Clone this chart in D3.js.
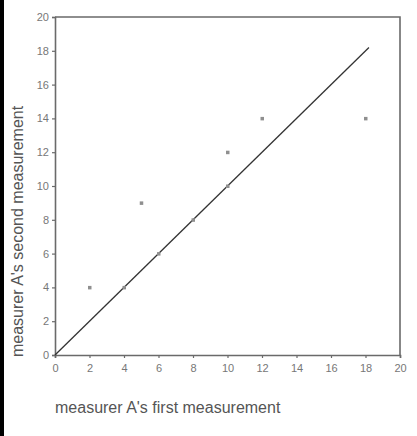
<!DOCTYPE html>
<html><head><meta charset="utf-8">
<script src="https://cdn.jsdelivr.net/npm/d3@7"></script>
<style>html,body{margin:0;padding:0;background:#fff;}svg{display:block;}</style>
</head><body>
<svg id="c" width="417" height="436"></svg>
<script>
const firstMeasurement  = [2, 4, 5, 6, 8, 10, 10, 12, 18];
const secondMeasurement = [4, 4, 9, 6, 8, 10, 12, 14, 14];
const tickValues = [0, 2, 4, 6, 8, 10, 12, 14, 16, 18, 20];
const identityLine = [0, 18.2];
const xTitle = "measurer A's first measurement";
const yTitle = "measurer A's second measurement";

const svg = d3.select("#c");
const W = 417, H = 436;
const m = {left: 55, right: 17, top: 17, bottom: 81};
const x = d3.scaleLinear().domain([0, 20]).range([m.left, W - m.right]);
const y = d3.scaleLinear().domain([0, 20]).range([H - m.bottom, m.top]);

svg.append("rect").attr("x", 0).attr("y", 0).attr("width", 4).attr("height", H).attr("fill", "#000");

const font = "Liberation Sans, Arial, sans-serif";
const axisCol = "#6a6a6a";

// frame top/right
svg.append("path")
  .attr("d", `M${x(0)},${y(20)}H${x(20)}V${y(0)}`)
  .attr("fill", "none").attr("stroke", axisCol).attr("stroke-width", 1.6);

const gx = svg.append("g").attr("transform", `translate(0,${y(0)})`)
  .call(d3.axisBottom(x).tickValues(tickValues).tickSize(3).tickPadding(6).tickFormat(d3.format("d")));
const gy = svg.append("g").attr("transform", `translate(${x(0)},0)`)
  .call(d3.axisLeft(y).tickValues(tickValues).tickSize(3).tickPadding(3).tickFormat(d3.format("d")));
[gx, gy].forEach(g => {
  g.select(".domain").attr("stroke", axisCol).attr("stroke-width", 1.6);
  g.selectAll(".tick line").attr("stroke", axisCol).attr("stroke-width", 1.2);
  g.selectAll("text").attr("fill", "#777").style("font-family", font).style("font-size", "11px");
});

// identity line
svg.append("line")
  .attr("x1", x(identityLine[0])).attr("y1", y(identityLine[0]))
  .attr("x2", x(identityLine[1])).attr("y2", y(identityLine[1]))
  .attr("stroke", "#333").attr("stroke-width", 1.3);

// points
svg.append("g").selectAll("rect").data(firstMeasurement.map((v, i) => [v, secondMeasurement[i]]))
  .join("rect")
  .attr("x", d => x(d[0]) - 1.5).attr("y", d => y(d[1]) - 1.5)
  .attr("width", 3.5).attr("height", 3.5).attr("fill", "#8f8f8f");

svg.append("text").attr("x", x(0)).attr("y", 413)
  .attr("fill", "#555").style("font-family", font).style("font-size", "16px")
  .text(xTitle);

svg.append("text")
  .attr("transform", `translate(23,${y(0) + 2}) rotate(-90)`)
  .attr("text-anchor", "start")
  .attr("fill", "#555").style("font-family", font).style("font-size", "16px")
  .text(yTitle);
</script>
</body></html>
